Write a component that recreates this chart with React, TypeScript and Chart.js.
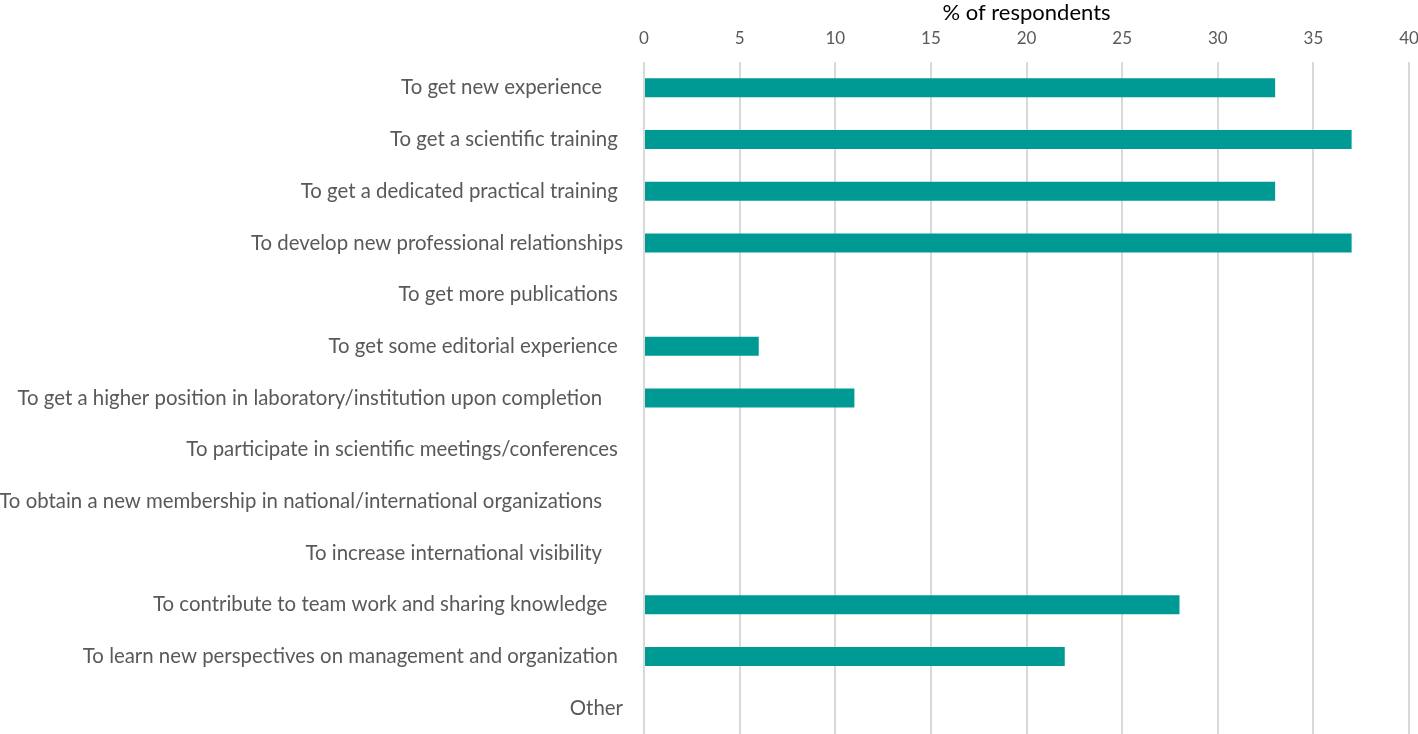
import React, { useEffect, useRef } from "react";
import { Chart, registerables } from "chart.js";

Chart.register(...registerables);

const categories = [
  "To get new experience    ",
  "To get a scientific training ",
  "To get a dedicated practical training ",
  "To develop new professional relationships",
  "To get more publications ",
  "To get some editorial experience ",
  "To get a higher position in laboratory/institution upon completion    ",
  "To participate in scientific meetings/conferences ",
  "To obtain a new membership in national/international organizations    ",
  "To increase international visibility    ",
  "To contribute to team work and sharing knowledge   ",
  "To learn new perspectives on management and organization ",
  "Other",
];
const values = [33, 37, 33, 37, 0, 6, 11, 0, 0, 0, 28, 22, 0];
const xTitle = "% of respondents";

const FONT = "Lato, 'Liberation Sans', sans-serif";

export default function App() {
  const ref = useRef<HTMLCanvasElement>(null);
  useEffect(() => {
    if (!ref.current) return;
    const chart = new Chart(ref.current, {
      type: "bar",
      data: {
        labels: categories,
        datasets: [
          {
            data: values,
            backgroundColor: "#009a95",
            borderWidth: 0,
            barPercentage: 0.735,
            categoryPercentage: 0.5,
          },
        ],
      },
      options: {
        indexAxis: "y",
        animation: false,
        responsive: true,
        maintainAspectRatio: false,
        layout: { padding: 0 },
        plugins: { legend: { display: false }, tooltip: { enabled: false } },
        scales: {
          x: {
            position: "top",
            min: 0,
            max: 40,
            ticks: {
              stepSize: 5,
              color: "#595959",
              font: { family: FONT, size: 17 },
              padding: 13,
            },
            grid: { color: "#d9d9d9", lineWidth: 2, drawTicks: false },
            border: { display: false },
            title: {
              display: true,
              text: xTitle,
              color: "#000000",
              font: { family: FONT, size: 22 },
              padding: { top: 0, bottom: 2 },
            },
            afterFit: (s: any) => {
              s.height = 62;
              s.paddingRight = 9;
              s.paddingLeft = 0;
            },
          },
          y: {
            ticks: {
              color: "#595959",
              font: { family: FONT, size: 20.4 },
              padding: 21,
              autoSkip: false,
            },
            grid: { display: false, drawTicks: false },
            border: { display: false },
            afterFit: (s: any) => {
              s.width = 644;
              s.paddingTop = 0;
              s.paddingBottom = 0;
            },
          },
        },
      },
    });
    return () => chart.destroy();
  }, []);
  return (
    <div style={{ position: "fixed", left: 0, top: 0, width: 1418, height: 734, background: "#fff" }}>
      <canvas ref={ref} />
    </div>
  );
}
